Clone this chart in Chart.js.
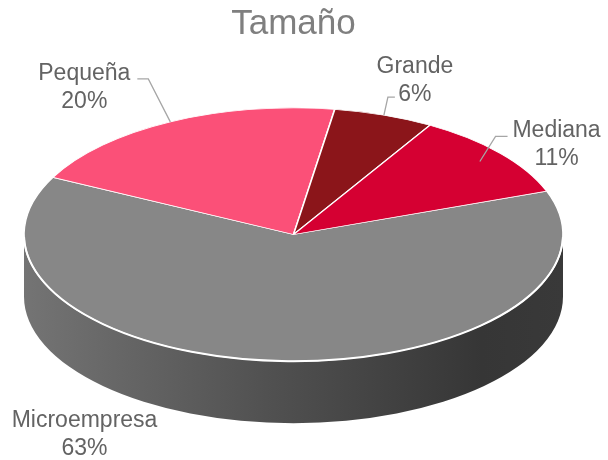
<!DOCTYPE html>
<html>
<head>
<meta charset="utf-8">
<script src="https://cdn.jsdelivr.net/npm/chart.js@4/dist/chart.umd.min.js"></script>
<style>
  body { margin: 0; background: #ffffff; }
  canvas { display: block; }
</style>
</head>
<body>
<canvas id="chart" width="608" height="460"></canvas>
<script>
// Chart data
const categories = ['Microempresa', 'Pequeña', 'Grande', 'Mediana'];
const shares = [63, 20, 6, 11];
const sliceColors = ['#878787', '#fb5078', '#8b151a', '#d50032'];

// 3D look
const tilt = 0.47;      // vertical squash of the pie top
const depth = 62;       // height of the side wall in px
const labelFont = "23px 'Liberation Sans', Arial, sans-serif";

// label placement relative to the slice's rim point (text centre x, first baseline)
const labelPlacement = {
  'Microempresa': { dx: -193, dy: 66, leader: null },
  'Pequeña': { dx: -86, dy: -42, leader: { reach: 1, knee: [-22, -43], end: [-33, -43] } },
  'Grande': { dx: 31, dy: -42, leader: { reach: 1, knee: [4, -18], end: [11, -18] } },
  'Mediana': { dx: 56, dy: -16, leader: { reach: 0.9, knee: [-5, -17], end: [7, -17] } }
};

function shade(hex, f) {
  const n = parseInt(hex.slice(1), 16);
  const r = Math.round(((n >> 16) & 255) * f);
  const g = Math.round(((n >> 8) & 255) * f);
  const b = Math.round((n & 255) * f);
  return 'rgb(' + r + ',' + g + ',' + b + ')';
}

const pie3d = {
  id: 'pie3d',
  beforeDatasetsDraw(chart) {
    const ctx = chart.ctx;
    const arcs = chart.getDatasetMeta(0).data;
    const cx = arcs[0].x, cy = arcs[0].y;
    const rx = arcs[0].outerRadius, ry = rx * tilt;

    // side walls for the part of each slice facing the viewer
    arcs.forEach((arc, i) => {
      for (let k = -1; k <= 1; k++) {
        const lo = Math.max(arc.startAngle, k * 2 * Math.PI);
        const hi = Math.min(arc.endAngle, k * 2 * Math.PI + Math.PI);
        if (hi <= lo) continue;
        const grad = ctx.createLinearGradient(cx - rx, 0, cx + rx, 0);
        grad.addColorStop(0, shade(sliceColors[i], 0.86));
        grad.addColorStop(0.45, shade(sliceColors[i], 0.6));
        grad.addColorStop(0.85, shade(sliceColors[i], 0.4));
        grad.addColorStop(1, shade(sliceColors[i], 0.42));
        ctx.beginPath();
        ctx.ellipse(cx, cy, rx, ry, 0, lo, hi);
        ctx.ellipse(cx, cy + depth, rx, ry, 0, hi, lo, true);
        ctx.closePath();
        ctx.fillStyle = grad;
        ctx.fill();
      }
    });

    // squash the pie so the library's arcs become the tilted top
    ctx.save();
    ctx.translate(cx, cy);
    ctx.scale(1, tilt);
    ctx.translate(-cx, -cy);
  },
  afterDatasetsDraw(chart) {
    const ctx = chart.ctx;
    ctx.restore();

    const arcs = chart.getDatasetMeta(0).data;
    const cx = arcs[0].x, cy = arcs[0].y;
    const rx = arcs[0].outerRadius, ry = rx * tilt;

    // white rim along the front edge
    ctx.save();
    ctx.beginPath();
    ctx.ellipse(cx, cy, rx, ry, 0, 0.02, Math.PI - 0.02);
    ctx.strokeStyle = '#ffffff';
    ctx.lineWidth = 2;
    ctx.stroke();
    ctx.restore();

    // data labels
    ctx.save();
    ctx.font = labelFont;
    ctx.fillStyle = '#636363';
    ctx.textAlign = 'center';
    ctx.textBaseline = 'alphabetic';
    arcs.forEach((arc, i) => {
      const place = labelPlacement[categories[i]];
      const mid = (arc.startAngle + arc.endAngle) / 2;
      const px = cx + rx * Math.cos(mid);
      const py = cy + ry * Math.sin(mid);
      const tx = px + place.dx, ty = py + place.dy;
      ctx.fillText(categories[i], tx, ty);
      ctx.fillText(shares[i] + '%', tx, ty + 28);

      if (place.leader) {
        const l = place.leader;
        ctx.beginPath();
        ctx.moveTo(cx + rx * l.reach * Math.cos(mid), cy + ry * l.reach * Math.sin(mid));
        ctx.lineTo(px + l.knee[0], py + l.knee[1]);
        ctx.lineTo(px + l.end[0], py + l.end[1]);
        ctx.strokeStyle = '#a6a6a6';
        ctx.lineWidth = 1.3;
        ctx.stroke();
      }
    });
    ctx.restore();
  }
};

const ctx = document.getElementById('chart').getContext('2d');
new Chart(ctx, {
  type: 'pie',
  data: {
    labels: categories,
    datasets: [{
      data: shares,
      backgroundColor: sliceColors,
      borderColor: '#ffffff',
      borderWidth: 1.6,
      radius: 269.5,
      hoverOffset: 0,
      clip: false
    }]
  },
  options: {
    responsive: false,
    animation: false,
    rotation: 70,
    layout: {
      padding: { left: 0, right: 21, top: 0, bottom: 36 }
    },
    plugins: {
      legend: { display: false },
      tooltip: { enabled: false },
      title: {
        display: true,
        text: 'Tamaño',
        color: '#7f7f7f',
        font: { family: "'Liberation Sans', Arial, sans-serif", size: 35, weight: 'normal' },
        padding: { top: 3, bottom: 0 }
      }
    }
  },
  plugins: [pie3d]
});
</script>
</body>
</html>
